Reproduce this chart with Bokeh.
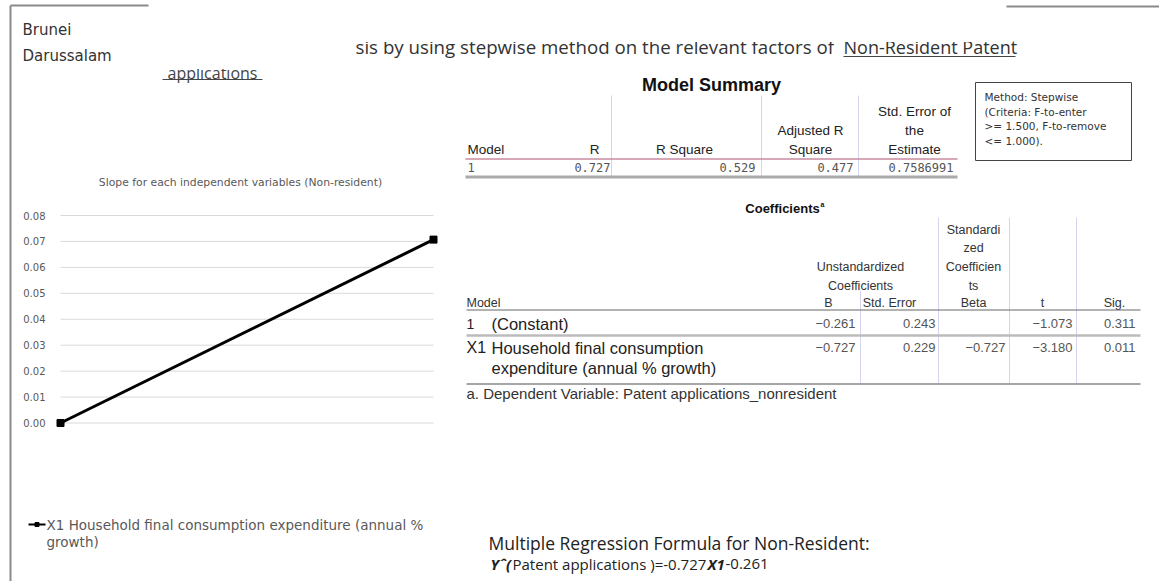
from bokeh.plotting import figure
from bokeh.models import Range1d
from bokeh.core.properties import value
from bokeh.embed import file_html
from bokeh.resources import INLINE

# ---------------- data ----------------
country_lines = ["Brunei", "Darussalam"]
heading_text = "sis by using stepwise method on the relevant factors of"
heading_underlined = "Non-Resident  Patent"
heading_line2 = "applications"

chart_title = "Slope for each independent variables (Non-resident)"
slope_x = [0, 1]
slope_values = [0.0, 0.0707]
slope_ticks = [0.00, 0.01, 0.02, 0.03, 0.04, 0.05, 0.06, 0.07, 0.08]
legend_lines = ["X1 Household final consumption expenditure (annual %", "growth)"]

ms_title = "Model Summary"
ms_headers = [["Model"], ["R"], ["R Square"], ["Adjusted R", "Square"], ["Std. Error of", "the", "Estimate"]]
ms_values = ["1", "0.727", "0.529", "0.477", "0.7586991"]

method_lines = ["Method:  Stepwise", "(Criteria: F-to-enter", ">= 1.500, F-to-remove", "<= 1.000)."]

coef_title = "Coefficients"
coef_title_note = "a"
coef_unstd_header = ["Unstandardized", "Coefficients"]
coef_std_header = ["Standardi", "zed", "Coefficien", "ts"]
coef_col_headers = ["B", "Std. Error", "Beta", "t", "Sig."]
coef_model_ids = ["1", "X1"]
coef_terms = [["(Constant)"], ["Household final consumption", "expenditure (annual  % growth)"]]
coef_B = ["\u22120.261", "\u22120.727"]
coef_se = ["0.243", "0.229"]
coef_beta = ["", "\u22120.727"]
coef_t = ["\u22121.073", "\u22123.180"]
coef_sig = ["0.311", "0.011"]
coef_footnote = "a. Dependent Variable: Patent applications_nonresident"

formula_title = "Multiple Regression Formula  for Non-Resident:"
formula_parts = ["Y\u02c6(", "Patent applications )=-0.727", "X1", "-0.261"]
formula_styles = ["bold italic", "normal", "bold italic", "normal"]

# ---------------- layout (reference pixel space) ----------------
W, H = 1159, 581
SLIDE = value("Open Sans")
WIDE = value("DejaVu Sans")
ARIAL = value("Liberation Sans")
MONO = value("DejaVu Sans Mono")

p = figure(width=W, height=H, output_backend="svg", toolbar_location=None,
           x_range=Range1d(0, W), y_range=Range1d(H, 0),
           min_border=0, outline_line_color=None, background_fill_color="white")
p.axis.visible = False
p.grid.visible = False

# slide frame lines
p.segment(x0=[10, 10, 1006], y0=[5, 5, 6], x1=[10, 148, 1159], y1=[581, 5, 6],
          line_color="#8a8a8a", line_width=2)

# country text
p.text(x=[22, 22], y=[29, 55], text=country_lines, text_font=WIDE,
       text_font_size="15px", text_color="#333333", text_baseline="middle")

# heading (upper part of the glyphs is hidden in the reference)
p.text(x=[355], y=[46], text=[heading_text], text_font=SLIDE,
       text_font_size="18.7px", text_color="#333333", text_baseline="middle")
p.text(x=[843], y=[46], text=[heading_underlined], text_font=SLIDE,
       text_font_size="18px", text_color="#333333", text_baseline="middle")
p.text(x=[212], y=[72], text=[heading_line2], text_font=SLIDE,
       text_font_size="16px", text_color="#444444", text_baseline="middle", text_align="center")
p.quad(left=[150, 150], right=[1003, 280], top=[8, 58], bottom=[41.5, 68.5],
       fill_color="white", line_color=None)
p.segment(x0=[843, 162], y0=[56, 79], x1=[1015, 262], y1=[56, 79],
          line_color="#444444", line_width=1)

# ---------------- slope chart via its own scales ----------------
CH_XA, CH_XB = 60.0, 433.0      # pixel x of category 0 and 1
CH_YA, CH_YB = 422.5, 215.0     # pixel y of 0.00 and 0.08
VMAX = 0.08
sx_per = (CH_XB - CH_XA)
sy_per = (CH_YA - CH_YB) / VMAX
p.extra_x_ranges = {"sx": Range1d((0 - CH_XA) / sx_per, (W - CH_XA) / sx_per)}
p.extra_y_ranges = {"sy": Range1d((CH_YA - H) / sy_per, (CH_YA - 0) / sy_per)}

p.segment(x0=[slope_x[0]] * len(slope_ticks), x1=[slope_x[-1]] * len(slope_ticks),
          y0=slope_ticks, y1=slope_ticks, line_color="#d9d9d9", line_width=1,
          x_range_name="sx", y_range_name="sy")
p.text(x=[slope_x[0]] * len(slope_ticks), y=slope_ticks,
       text=["%.2f" % t for t in slope_ticks], x_offset=-15,
       text_font=WIDE, text_font_size="10px", text_color="#595959",
       text_align="right", text_baseline="middle", x_range_name="sx", y_range_name="sy")
p.line(x=slope_x, y=slope_values, line_color="black", line_width=3,
       x_range_name="sx", y_range_name="sy")
p.scatter(x=slope_x, y=slope_values, marker="square", size=7, color="black",
          x_range_name="sx", y_range_name="sy")
p.text(x=[240], y=[182], text=[chart_title], text_font=WIDE, text_font_size="10.8px",
       text_color="#595959", text_align="center", text_baseline="middle")

# legend
p.segment(x0=[28], y0=[524], x1=[45], y1=[524], line_color="black", line_width=2)
p.scatter(x=[36.5], y=[524], marker="square", size=4, color="black")
p.text(x=[46, 46], y=[524, 541], text=legend_lines, text_font=WIDE, text_font_size="13.5px",
       text_color="#595959", text_baseline="middle")

# ---------------- Model Summary table ----------------
p.text(x=[711], y=[84], text=[ms_title], text_font=ARIAL, text_font_size="18px",
       text_font_style="bold", text_color="#111111", text_align="center", text_baseline="middle")
ms_col_x = [467, 594, 684, 810, 914]
ms_col_align = ["left", "center", "center", "center", "center"]
MS_HDR_BOTTOM, MS_LINE_H = 149, 19
for cx, al, lines in zip(ms_col_x, ms_col_align, ms_headers):
    n = len(lines)
    ys = [MS_HDR_BOTTOM - (n - 1 - i) * MS_LINE_H for i in range(n)]
    p.text(x=[cx] * n, y=ys, text=lines, text_font=ARIAL, text_font_size="13.5px",
           text_color="#222222", text_align=al, text_baseline="middle")
p.segment(x0=[611, 761, 858], y0=[95] * 3, x1=[611, 761, 858], y1=[176] * 3,
          line_color="#d4d4f0", line_width=1)
p.segment(x0=[465], y0=[158.5], x1=[957], y1=[158.5], line_color="#c98a9e", line_width=1.5)
ms_val_x = [467, 610, 755, 853, 953]
ms_val_align = ["left", "right", "right", "right", "right"]
p.text(x=ms_val_x, y=[167] * 5, text=ms_values, text_font=MONO, text_font_size="12px",
       text_color="#555555", text_align=ms_val_align, text_baseline="middle")
p.segment(x0=[465], y0=[176.5], x1=[957], y1=[176.5], line_color="#aaaaaa", line_width=3)

# method note box
p.quad(left=[975], right=[1131], top=[82], bottom=[160], fill_color="white",
       line_color="#444444", line_width=1)
p.text(x=[984] * 4, y=[96, 111, 125, 140], text=method_lines, text_font=WIDE,
       text_font_size="10.5px", text_color="#333333", text_baseline="middle")

# ---------------- Coefficients table ----------------
p.text(x=[782], y=[208], text=[coef_title], text_font=ARIAL, text_font_size="13px",
       text_font_style="bold", text_color="#111111", text_align="center", text_baseline="middle")
p.text(x=[820], y=[204], text=[coef_title_note], text_font=ARIAL, text_font_size="7px",
       text_font_style="bold", text_color="#111111", text_baseline="middle")
HDR_Y = [229, 247, 266, 285, 302]
p.text(x=[860, 860], y=HDR_Y[2:4], text=coef_unstd_header, text_font=ARIAL, text_font_size="12.5px",
       text_color="#333333", text_align="center", text_baseline="middle")
p.text(x=[973] * 4, y=HDR_Y[0:4], text=coef_std_header, text_font=ARIAL, text_font_size="12.5px",
       text_color="#333333", text_align="center", text_baseline="middle")
p.text(x=[466], y=[HDR_Y[4]], text=["Model"], text_font=ARIAL, text_font_size="12.5px",
       text_color="#333333", text_baseline="middle")
p.text(x=[828, 889, 973, 1042, 1114], y=[HDR_Y[4]] * 5, text=coef_col_headers, text_font=ARIAL,
       text_font_size="12.5px", text_color="#333333", text_align="center", text_baseline="middle")
p.segment(x0=[860], y0=[290], x1=[860], y1=[383], line_color="#d4d4f0", line_width=1)
p.segment(x0=[938, 1009, 1076], y0=[217] * 3, x1=[938, 1009, 1076], y1=[383] * 3,
          line_color="#d4d4f0", line_width=1)
p.segment(x0=[466], y0=[309.5], x1=[1140], y1=[309.5], line_color="#666666", line_width=1)
p.segment(x0=[466], y0=[335], x1=[1140], y1=[335], line_color="#bbbbbb", line_width=2.5)
p.segment(x0=[466], y0=[383.5], x1=[1140], y1=[383.5], line_color="#888888", line_width=1.5)

ROW_Y = [323, 347]
p.text(x=[466, 466], y=ROW_Y, text=coef_model_ids, text_font=ARIAL,
       text_font_size=["14px", "16px"], text_color="#222222", text_baseline="middle")
for ry, lines in zip(ROW_Y, coef_terms):
    p.text(x=[491] * len(lines), y=[ry + 20 * i for i in range(len(lines))], text=lines,
           text_font=ARIAL, text_font_size="16.5px", text_color="#222222", text_baseline="middle")
for cx, col in zip([855, 935, 1005, 1072, 1135], [coef_B, coef_se, coef_beta, coef_t, coef_sig]):
    p.text(x=[cx] * 2, y=ROW_Y, text=col, text_font=ARIAL, text_font_size="13px",
           text_color="#555555", text_align="right", text_baseline="middle")
p.text(x=[466], y=[393], text=[coef_footnote], text_font=ARIAL, text_font_size="15px",
       text_color="#333333", text_baseline="middle")

# ---------------- formula ----------------
p.text(x=[488], y=[542], text=[formula_title], text_font=SLIDE, text_font_size="17.5px",
       text_color="#222222", text_baseline="middle")
p.text(x=[490, 512, 707, 725], y=[563] * 4, text=formula_parts, text_font=SLIDE,
       text_font_size="15px", text_font_style=formula_styles, text_color="#222222",
       text_baseline="middle")

open("out.html", "w").write(file_html(p, INLINE))
